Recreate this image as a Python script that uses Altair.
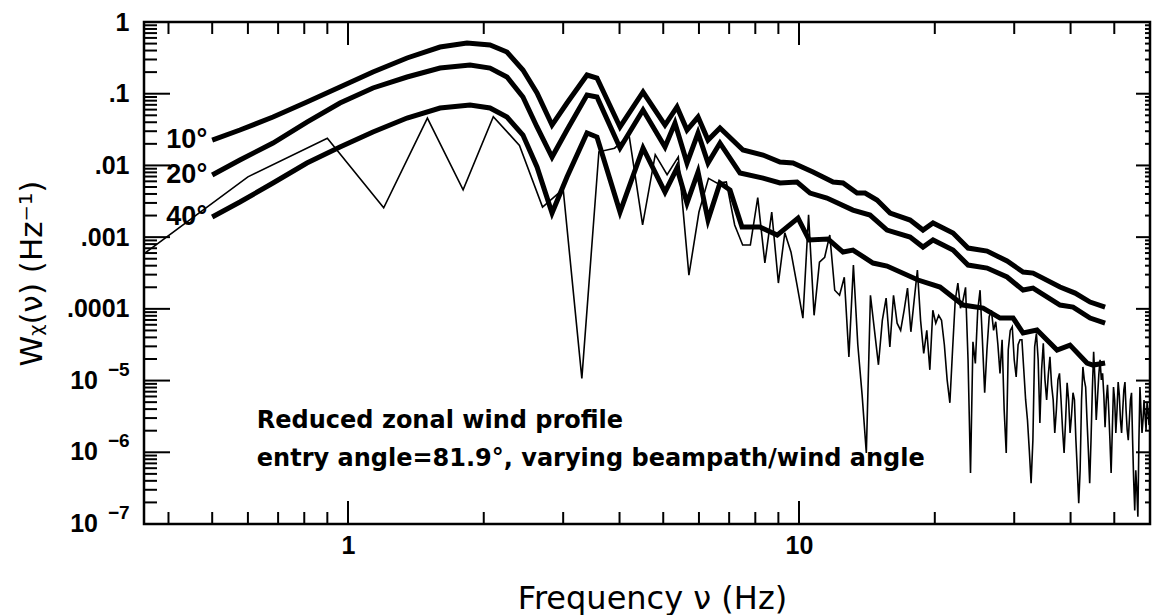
import altair as alt
import pandas as pd

# ---------------- data ----------------
# thin line: spectrum sampled every 0.3 Hz ; values given as log10 W
thin_freq = [
    0.3, 0.6, 0.9, 1.2, 1.5, 1.8, 2.1, 2.4, 2.7, 3.0,
    3.3, 3.6, 3.9, 4.2, 4.5, 4.8, 5.1, 5.4, 5.7, 6.0,
    6.3, 6.6, 6.9, 7.2, 7.5, 7.8, 8.1, 8.4, 8.7, 9.0,
    9.3, 9.6, 9.9, 10.2, 10.5, 10.8, 11.1, 11.4, 11.7, 12.0,
    12.3, 12.6, 12.9, 13.2, 13.5, 13.8, 14.1, 14.4, 14.7, 15.0,
    15.3, 15.6, 15.9, 16.2, 16.5, 16.8, 17.1, 17.4, 17.7, 18.0,
    18.3, 18.6, 18.9, 19.2, 19.5, 19.8, 20.1, 20.4, 20.7, 21.0,
    21.3, 21.6, 21.9, 22.2, 22.5, 22.8, 23.1, 23.4, 23.7, 24.0,
    24.3, 24.6, 24.9, 25.2, 25.5, 25.8, 26.1, 26.4, 26.7, 27.0,
    27.3, 27.6, 27.9, 28.2, 28.5, 28.8, 29.1, 29.4, 29.7, 30.0,
    30.3, 30.6, 30.9, 31.2, 31.5, 31.8, 32.1, 32.4, 32.7, 33.0,
    33.3, 33.6, 33.9, 34.2, 34.5, 34.8, 35.1, 35.4, 35.7, 36.0,
    36.3, 36.6, 36.9, 37.2, 37.5, 37.8, 38.1, 38.4, 38.7, 39.0,
    39.3, 39.6, 39.9, 40.2, 40.5, 40.8, 41.1, 41.4, 41.7, 42.0,
    42.3, 42.6, 42.9, 43.2, 43.5, 43.8, 44.1, 44.4, 44.7, 45.0,
    45.3, 45.6, 45.9, 46.2, 46.5, 46.8, 47.1, 47.4, 47.7, 48.0,
    48.3, 48.6, 48.9, 49.2, 49.5, 49.8, 50.1, 50.4, 50.7, 51.0,
    51.3, 51.6, 51.9, 52.2, 52.5, 52.8, 53.1, 53.4, 53.7, 54.0,
    54.3, 54.6, 54.9, 55.2, 55.5, 55.8, 56.1, 56.4, 56.7, 57.0,
    57.3, 57.6, 57.9, 58.2, 58.5, 58.8, 59.1, 59.4, 59.7, 60.0,
]
thin_log10W = [
    -3.56, -2.16, -1.62, -2.59, -1.34, -2.34, -1.32, -1.72, -2.58, -2.33,
    -4.97, -1.81, -1.76, -1.58, -2.83, -1.85, -2.13, -1.88, -3.53, -2.65,
    -2.18, -2.25, -2.23, -2.83, -3.11, -3.11, -2.45, -3.36, -2.65, -3.64,
    -2.94, -3.21, -3.67, -4.13, -2.69, -4.09, -3.35, -3.28, -2.97, -3.74,
    -3.81, -3.56, -4.67, -3.39, -4.50, -5.20, -6.01, -3.81, -4.30, -4.78,
    -4.16, -3.85, -4.53, -3.81, -4.20, -4.30, -4.02, -3.71, -4.32, -3.88,
    -3.46, -4.16, -4.62, -4.30, -4.85, -4.02, -4.20, -4.09, -4.16, -4.50,
    -4.99, -5.31, -4.57, -3.88, -3.64, -3.99, -3.88, -3.70, -4.71, -6.29,
    -4.46, -4.76, -4.02, -3.74, -4.43, -5.17, -4.57, -4.11, -4.02, -4.30,
    -4.18, -4.50, -4.90, -4.43, -5.41, -6.01, -4.57, -4.30, -4.25, -4.71,
    -4.95, -4.50, -4.43, -4.43, -4.85, -5.27, -5.55, -5.97, -6.43, -5.83,
    -4.53, -4.34, -4.71, -5.59, -4.85, -4.48, -4.99, -5.27, -4.92, -4.67,
    -5.06, -5.27, -5.73, -5.41, -4.99, -4.90, -5.27, -5.69, -6.01, -5.55,
    -5.03, -5.27, -5.73, -5.48, -5.17, -5.27, -5.83, -6.25, -6.71, -6.25,
    -5.27, -4.81, -4.99, -5.09, -5.55, -5.97, -6.43, -5.83, -5.13, -4.60,
    -4.99, -5.55, -5.24, -4.92, -4.71, -4.99, -4.90, -5.20, -5.65, -5.27,
    -5.06, -5.41, -5.83, -6.29, -5.69, -5.09, -5.27, -5.73, -5.41, -5.02,
    -5.20, -5.55, -5.73, -5.41, -5.13, -5.02, -5.41, -5.69, -5.83, -5.55,
    -5.27, -5.17, -5.83, -6.39, -6.81, -6.25, -6.53, -6.90, -5.83, -5.09,
    -5.41, -5.73, -5.55, -5.27, -5.48, -5.69, -5.31, -5.41, -5.62, -5.51,
]

# thick curves (beampath/wind angle 10, 20, 40 deg), log10 W
c10_freq = [0.5, 0.576, 0.682, 0.811, 0.960, 1.136, 1.352, 1.600, 1.836, 2.065,
            2.252, 2.443, 2.625, 2.834, 3.059, 3.388, 3.565, 4.010, 4.510, 5.045,
            5.364, 5.645, 5.972, 6.284, 6.680, 7.512, 8.322, 9.075, 9.698, 10.74,
            11.90, 12.52, 13.45, 14.01, 14.89, 15.92, 17.63, 18.83, 19.82, 21.95,
            23.70, 26.12, 28.92, 31.39, 33.03, 37.90, 40.93, 44.19, 47.71]
c10_log10W = [-1.646, -1.506, -1.325, -1.116, -0.907, -0.697, -0.502, -0.349, -0.293, -0.321,
              -0.418, -0.669, -0.990, -1.437, -1.130, -0.739, -0.781, -1.464, -0.976, -1.437,
              -1.185, -1.506, -1.325, -1.646, -1.478, -1.785, -1.855, -1.953, -1.967, -2.092,
              -2.232, -2.245, -2.385, -2.385, -2.483, -2.664, -2.762, -2.901, -2.803, -2.943,
              -3.152, -3.194, -3.333, -3.487, -3.501, -3.696, -3.780, -3.905, -3.975]

c20_freq = [0.5, 0.576, 0.682, 0.811, 0.960, 1.136, 1.352, 1.600, 1.865, 2.065,
            2.252, 2.443, 2.625, 2.834, 3.059, 3.388, 3.565, 4.010, 4.510, 5.045,
            5.309, 5.645, 5.972, 6.284, 6.680, 7.398, 8.322, 9.075, 9.899, 10.58,
            11.53, 13.17, 14.37, 15.67, 17.63, 18.83, 19.82, 21.95, 23.70, 26.12,
            28.92, 31.39, 33.03, 37.90, 40.51, 44.19, 47.71]
c20_log10W = [-2.134, -1.925, -1.688, -1.395, -1.130, -0.920, -0.767, -0.642, -0.600, -0.642,
              -0.767, -1.046, -1.464, -1.883, -1.506, -1.018, -1.046, -1.757, -1.227, -1.743,
              -1.409, -1.967, -1.548, -1.967, -1.688, -2.106, -2.176, -2.245, -2.232, -2.385,
              -2.455, -2.622, -2.692, -2.901, -2.999, -3.138, -3.040, -3.180, -3.389, -3.431,
              -3.556, -3.738, -3.710, -3.947, -3.975, -4.128, -4.198]

c40_freq = [0.5, 0.576, 0.682, 0.811, 0.960, 1.136, 1.352, 1.600, 1.865, 2.065,
            2.252, 2.443, 2.625, 2.834, 3.059, 3.388, 3.565, 4.010, 4.510, 5.045,
            5.364, 5.645, 5.972, 6.284, 6.680, 7.031, 7.474, 8.193, 8.946, 9.950,
            10.53, 11.60, 12.52, 13.17, 14.59, 15.67, 18.36, 20.54, 23.10, 25.59,
            27.91, 29.83, 31.39, 33.70, 37.33, 39.88, 43.50, 44.86, 47.71]
c40_log10W = [-2.720, -2.510, -2.245, -1.967, -1.743, -1.534, -1.339, -1.199, -1.158, -1.199,
              -1.325, -1.576, -2.022, -2.664, -2.162, -1.548, -1.604, -2.650, -1.757, -2.371,
              -2.036, -2.524, -2.092, -2.762, -2.245, -2.343, -2.859, -2.859, -2.971, -2.734,
              -3.040, -3.027, -3.208, -3.180, -3.361, -3.403, -3.598, -3.696, -3.947, -3.989,
              -4.128, -4.128, -4.337, -4.296, -4.575, -4.505, -4.756, -4.784, -4.756]

curve_names = ["10°", "20°", "40°"]

# axis ticks / labels
x_major = [1, 10]
x_minor = [0.4, 0.5, 0.6, 0.7, 0.8, 0.9, 2, 3, 4, 5, 6, 7, 8, 9, 20, 30, 40, 50]
y_major = [1e-7, 1e-6, 1e-5, 1e-4, 1e-3, 1e-2, 1e-1, 1]
y_major_text = ["", "", "", ".0001", ".001", ".01", ".1", "1"]
y_pow_values = [1e-7, 1e-6, 1e-5]
y_pow_exp = ["−7", "−6", "−5"]
y_minor = [m * d for d in [1e-7, 1e-6, 1e-5, 1e-4, 1e-3, 1e-2, 1e-1] for m in range(2, 10)]

note_lines = ["Reduced zonal wind profile",
              "entry angle=81.9°, varying beampath/wind angle"]

# ---------------- chart ----------------
W, H = 1006, 502
FONT = "Liberation Sans"
WIDE = "DejaVu Sans"

xs = alt.Scale(type="log", domain=[0.353, 60], nice=False)
ys = alt.Scale(type="log", domain=[1e-7, 1], nice=False)

thin_df = pd.DataFrame({"f": thin_freq, "W": [10 ** e for e in thin_log10W]})

rows = []
for name, fr, lv in zip(curve_names, [c10_freq, c20_freq, c40_freq],
                        [c10_log10W, c20_log10W, c40_log10W]):
    for i, (a, b) in enumerate(zip(fr, lv)):
        rows.append({"curve": name, "f": a, "W": 10 ** b, "i": i})
thick_df = pd.DataFrame(rows)
label_df = thick_df[thick_df["i"] == 0]

# y labels expression
expr = "''"
for v, t in zip(y_major, y_major_text):
    expr = f"datum.value > {v * 0.5!r} ? '{t}' : ({expr})"

x_axis = alt.Axis(values=x_major, format="~g", domain=False, ticks=False, grid=False,
                  labelFont=FONT, labelFontSize=25, labelFontWeight="bold",
                  labelColor="black", labelPadding=9, labelFlush=False,
                  title="Frequency ν (Hz)", titleFont=WIDE, titleFontSize=32,
                  titleFontWeight="normal", titleColor="black",
                  titleX=508, titleY=84, titleBaseline="alphabetic")
y_axis = alt.Axis(values=y_major, labelExpr=expr, domain=False, ticks=False, grid=False,
                  labelFont=FONT, labelFontSize=25, labelFontWeight="bold",
                  labelColor="black", labelPadding=15, labelFlush=False,
                  labelOverlap=False, labelBaseline="middle",
                  title="Wᵪ(ν)  (Hz⁻¹)", titleFont=WIDE, titleFontSize=31,
                  titleFontWeight="normal", titleColor="black",
                  titleAngle=270, titleX=-112, titleY=251,
                  titleAlign="center", titleBaseline="middle")

thin = alt.Chart(thin_df).mark_line(color="black", strokeWidth=1.6, clip=True).encode(
    x=alt.X("f:Q", scale=xs, axis=x_axis),
    y=alt.Y("W:Q", scale=ys, axis=y_axis),
    order="f:Q",
)

thick = alt.Chart(thick_df).mark_line(color="black", strokeWidth=5, clip=True).encode(
    x=alt.X("f:Q", scale=xs),
    y=alt.Y("W:Q", scale=ys),
    detail="curve:N",
    order="i:Q",
)

labels = alt.Chart(label_df).mark_text(align="right", baseline="middle", dx=-5,
                                       font=FONT, fontSize=27, fontWeight="bold",
                                       color="black").encode(
    x=alt.X("f:Q", scale=xs), y=alt.Y("W:Q", scale=ys), text="curve:N")

note_df = pd.DataFrame({"t": note_lines, "f": [0.628, 0.628], "W": [2.2e-6, 6.4e-7]})
notes = alt.Chart(note_df).mark_text(align="left", baseline="alphabetic",
                                     font=WIDE, fontSize=24, fontWeight="bold",
                                     color="black").encode(
    x=alt.X("f:Q", scale=xs), y=alt.Y("W:Q", scale=ys), text="t:N")

# power-of-ten labels ("10" with a raised exponent) for the lowest decades
pow_df = pd.DataFrame({"v": y_pow_values, "e": y_pow_exp, "b": ["10"] * 3})
pow_base = alt.Chart(pow_df).mark_text(align="right", baseline="middle", dx=-46,
                                       font=FONT, fontSize=25, fontWeight="bold",
                                       color="black", clip=False).encode(
    x=alt.value(0), y=alt.Y("v:Q", scale=ys), text="b:N")
pow_exp = alt.Chart(pow_df).mark_text(align="left", baseline="middle", dx=-36, dy=-11,
                                      font=FONT, fontSize=19, fontWeight="bold",
                                      color="black", clip=False).encode(
    x=alt.value(0), y=alt.Y("v:Q", scale=ys), text="e:N")

xmaj = pd.DataFrame({"v": x_major})
xmin = pd.DataFrame({"v": x_minor})
ymaj = pd.DataFrame({"v": y_major})
ymin = pd.DataFrame({"v": y_minor})

def xticks(df, y0, y1):
    return alt.Chart(df).mark_rule(color="black", strokeWidth=2).encode(
        x=alt.X("v:Q", scale=xs), y=alt.value(y0), y2=alt.value(y1))

def yticks(df, x0, x1):
    return alt.Chart(df).mark_rule(color="black", strokeWidth=2).encode(
        y=alt.Y("v:Q", scale=ys), x=alt.value(x0), x2=alt.value(x1))

ticks = [
    xticks(xmaj, H, H - 23), xticks(xmin, H, H - 12),
    xticks(xmaj, 0, 23), xticks(xmin, 0, 12),
    yticks(ymaj, 0, 26), yticks(ymin, 0, 13),
    yticks(ymaj, W, W - 14), yticks(ymin, W, W - 5),
]

chart = alt.layer(thin, thick, labels, notes, pow_base, pow_exp, *ticks).properties(
    width=W, height=H,
    padding={"left": 144, "top": 22, "right": 6, "bottom": 91},
    autosize=alt.AutoSizeParams(type="none"),
    background="white",
).configure_view(stroke="black", strokeWidth=2.5)

chart.save("out.html", embed_options={"renderer": "svg", "actions": False})
